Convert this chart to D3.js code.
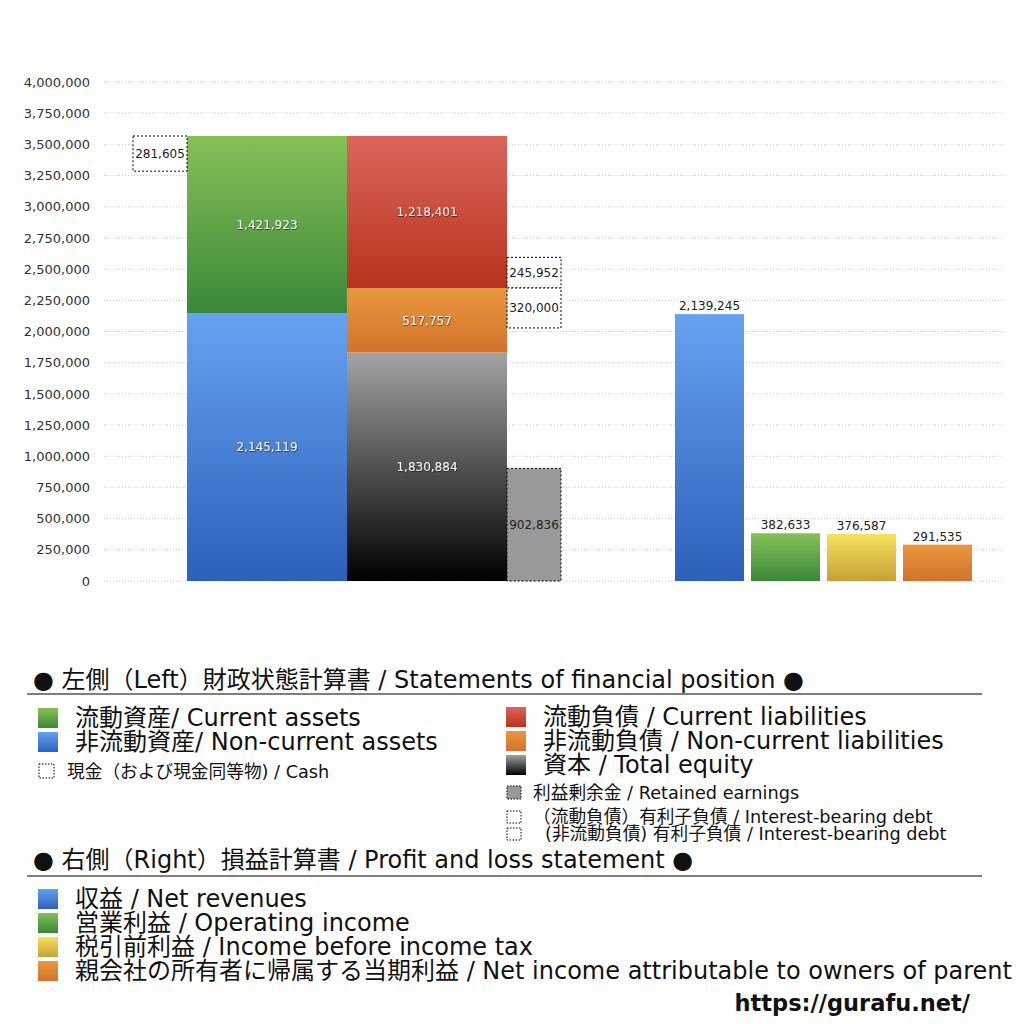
<!DOCTYPE html>
<html>
<head>
<meta charset="utf-8">
<script src="https://cdn.jsdelivr.net/npm/d3@7"></script>
<style>
  body { margin: 0; background: #fff; }
  svg { font-family: "DejaVu Sans", "Noto Sans CJK JP", sans-serif; }
</style>
</head>
<body>
<svg id="chart"></svg>
<script>
// ---- data ----
const yTicks = d3.range(0, 4000001, 250000);

const leftCols = ["assets", "liabilities"];
const assetNames = ["非流動資産", "流動資産"];
const assetValues = [2145119, 1421923];
const liabNames = ["資本", "非流動負債", "流動負債"];
const liabValues = [1830884, 517757, 1218401];

const cashValue = 281605;
const retainedEarnings = 902836;
const debtCurrent = 245952;
const debtNonCurrent = 320000;

const plNames = ["収益", "営業利益", "税引前利益", "親会社の所有者に帰属する当期利益"];
const plValues = [2139245, 382633, 376587, 291535];
const plLabels = [
  "収益 / Net revenues",
  "営業利益 / Operating income",
  "税引前利益 / Income before income tax",
  "親会社の所有者に帰属する当期利益 / Net income attributable to owners of parent"
];

const W = 1024, H = 1024;
const svg = d3.select("#chart").attr("width", W).attr("height", H);
const fmt = d3.format(",");

// gradients
const grads = {
  green: ["#86c157", "#3b873a"],
  blue: ["#66a2f0", "#2c60bb"],
  red: ["#da665b", "#b8321d"],
  orange: ["#e9983e", "#d3722c"],
  black: ["#a3a3a3", "#000000"],
  yellow: ["#f6e25c", "#c6a137"]
};
const defs = svg.append("defs");
Object.entries(grads).forEach(([k, c]) => {
  const g = defs.append("linearGradient").attr("id", "g-" + k)
    .attr("x1", 0).attr("y1", 0).attr("x2", 0).attr("y2", 1);
  g.append("stop").attr("offset", "0%").attr("stop-color", c[0]);
  g.append("stop").attr("offset", "100%").attr("stop-color", c[1]);
});
const shadow = defs.append("filter").attr("id", "shadow")
  .attr("x", "-10%").attr("y", "-30%").attr("width", "120%").attr("height", "160%");
shadow.append("feDropShadow").attr("dx", 0.5).attr("dy", 0.7)
  .attr("stdDeviation", 0.5).attr("flood-color", "#000").attr("flood-opacity", 0.7);

// scales
const y = d3.scaleLinear().domain([0, 4000000]).range([581, 82]);
const xLeft = d3.scaleBand().domain(leftCols).range([187, 507]).padding(0);
const xRight = d3.scaleBand().domain(plNames).range([675, 972]).paddingInner(0.092).paddingOuter(0);
const sideW = 54;

// grid + axis
svg.append("g").selectAll("line").data(yTicks).join("line")
  .attr("x1", 104).attr("x2", 1003)
  .attr("y1", d => y(d)).attr("y2", d => y(d))
  .attr("stroke", "#c8c8c8").attr("stroke-width", 1)
  .attr("stroke-dasharray", "1,2");

const yAxis = svg.append("g").attr("transform", "translate(90,0)")
  .call(d3.axisLeft(y).tickValues(yTicks).tickFormat(fmt).tickSize(0).tickPadding(0));
yAxis.select(".domain").remove();
yAxis.selectAll("text").attr("font-size", 13).attr("fill", "#333")
  .attr("font-family", "DejaVu Sans");

// stacked helper
function stackCol(col, names, values, colors) {
  let base = 0;
  const g = svg.append("g");
  names.forEach((n, i) => {
    const y0 = base, y1 = base + values[i];
    g.append("rect")
      .attr("x", xLeft(col)).attr("width", xLeft.bandwidth())
      .attr("y", y(y1)).attr("height", y(y0) - y(y1))
      .attr("fill", "url(#g-" + colors[i] + ")");
    g.append("text")
      .attr("x", xLeft(col) + xLeft.bandwidth() / 2)
      .attr("y", (y(y0) + y(y1)) / 2)
      .attr("dy", "0.35em").attr("text-anchor", "middle")
      .attr("font-size", 12).attr("fill", "#f2f2f2")
      .attr("filter", "url(#shadow)")
      .text(fmt(values[i]));
    base = y1;
  });
  return base;
}
const assetTotal = stackCol("assets", assetNames, assetValues, ["blue", "green"]);
stackCol("liabilities", liabNames, liabValues, ["black", "orange", "red"]);

// dashed side boxes
function sideBox(x, top, value, fill) {
  const g = svg.append("g");
  g.append("rect")
    .attr("x", x).attr("width", sideW)
    .attr("y", y(top)).attr("height", y(top - value) - y(top))
    .attr("fill", fill).attr("stroke", "#000").attr("stroke-width", 1)
    .attr("stroke-dasharray", "2,2");
  g.append("text")
    .attr("x", x + sideW / 2).attr("y", (y(top) + y(top - value)) / 2)
    .attr("dy", "0.35em").attr("text-anchor", "middle")
    .attr("font-size", 12).attr("fill", "#222")
    .text(fmt(value));
}
const liabRight = xLeft("liabilities") + xLeft.bandwidth();
const nonCurTop = liabValues[0] + liabValues[1];
sideBox(xLeft("assets") - sideW, assetTotal, cashValue, "#fff");
sideBox(liabRight, nonCurTop + debtCurrent, debtCurrent, "#fff");
sideBox(liabRight, nonCurTop, debtNonCurrent, "#fff");
sideBox(liabRight, retainedEarnings, retainedEarnings, "#999");

// right bars
const plColors = ["blue", "green", "yellow", "orange"];
const rg = svg.append("g");
rg.selectAll("rect").data(plValues).join("rect")
  .attr("x", (d, i) => xRight(plNames[i])).attr("width", xRight.bandwidth())
  .attr("y", d => y(d)).attr("height", d => y(0) - y(d))
  .attr("fill", (d, i) => "url(#g-" + plColors[i] + ")");
rg.selectAll("text").data(plValues).join("text")
  .attr("x", (d, i) => xRight(plNames[i]) + xRight.bandwidth() / 2)
  .attr("y", d => y(d) - 4).attr("text-anchor", "middle")
  .attr("font-size", 12).attr("fill", "#222")
  .text(d => fmt(d));

// ---- legend ----
const lg = svg.append("g").attr("fill", "#111");
function title(yb, text, lineY) {
  lg.append("text").attr("x", 33).attr("y", yb).attr("font-size", 24).text(text);
  lg.append("line").attr("x1", 27).attr("x2", 982).attr("y1", lineY).attr("y2", lineY)
    .attr("stroke", "#000").attr("stroke-width", 1.2);
}
function bigItem(x, top, color, text) {
  lg.append("rect").attr("x", x).attr("y", top).attr("width", 20).attr("height", 20)
    .attr("fill", "url(#g-" + color + ")");
  lg.append("text").attr("x", x + 37).attr("y", top + 18).attr("font-size", 24).text(text);
}
function smallItem(x, top, w, h, fill, text, tx, ty) {
  lg.append("rect").attr("x", x).attr("y", top).attr("width", w).attr("height", h)
    .attr("fill", fill).attr("stroke", "#000").attr("stroke-width", 1)
    .attr("stroke-dasharray", "1.5,1.5");
  lg.append("text").attr("x", tx).attr("y", ty).attr("font-size", 17.7).text(text);
}

title(688, "● 左側（Left）財政状態計算書 / Statements of financial position ●", 694);
bigItem(38, 708, "green", "流動資産/ Current assets");
bigItem(38, 732, "blue", "非流動資産/ Non-current assets");
smallItem(39, 764, 15, 14, "#fff", "現金（および現金同等物) / Cash", 67, 778);

bigItem(506, 707, "red", "流動負債 /  Current liabilities");
bigItem(506, 731, "orange", "非流動負債 / Non-current liabilities");
bigItem(506, 755, "black", "資本 / Total equity");
smallItem(507, 786, 14, 13, "#999", "利益剰余金 / Retained earnings", 533, 799);
smallItem(507, 811, 14, 12, "#fff", "（流動負債）有利子負債 / Interest-bearing debt", 533, 823);
smallItem(507, 828, 14, 12, "#fff", "(非流動負債) 有利子負債 / Interest-bearing debt", 545, 840);

title(868, "● 右側（Right）損益計算書 / Profit and loss statement ●", 876);
plLabels.forEach((t, i) => bigItem(38, 889 + i * 24, plColors[i], t));

svg.append("text").attr("x", 970).attr("y", 1011).attr("text-anchor", "end")
  .attr("font-size", 22.5).attr("font-weight", "bold").attr("fill", "#111")
  .text("https://gurafu.net/");
</script>
</body>
</html>
